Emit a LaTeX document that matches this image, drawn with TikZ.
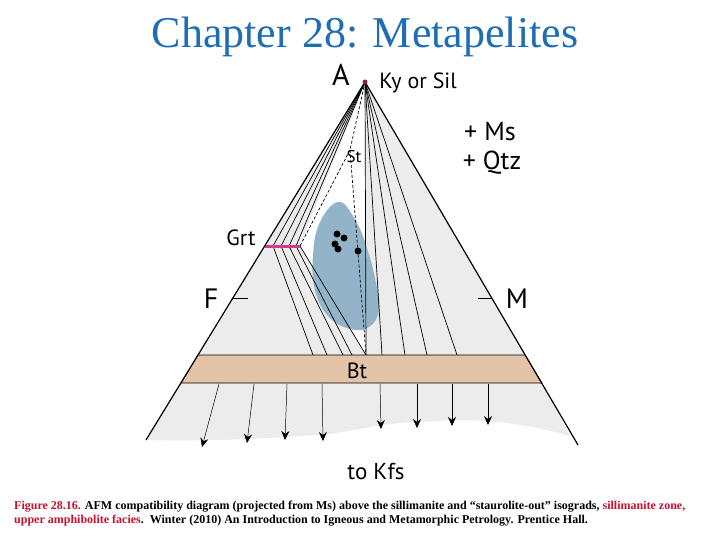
\documentclass[tikz,border=0pt]{standalone}
\usepackage{fontspec}
\setmainfont{Liberation Serif}
\newfontfamily\diafont{PT Sans}
\usepackage{tikz}
\usetikzlibrary{arrows.meta}

\definecolor{titleblue}{RGB}{31,109,180}
\definecolor{capred}{RGB}{200,16,46}
\definecolor{fieldgray}{RGB}{236,236,236}
\definecolor{bttan}{RGB}{228,196,168}
\definecolor{blobblue}{RGB}{147,180,200}
\definecolor{grtpink}{RGB}{214,58,140}
\definecolor{apexdot}{RGB}{140,30,90}

\begin{document}
\begin{tikzpicture}[x=1pt, y=-1pt,
  lbl/.style    = {anchor=base, inner sep=0pt, font=\diafont\fontsize{22}{22}\selectfont},
  biglbl/.style = {lbl, font=\diafont\fontsize{30}{30}\selectfont},
  edge/.style   = {line width=1.2pt},
  tie/.style    = {line width=0.7pt},
  dtie/.style   = {tie, dash pattern=on 3pt off 2pt},
  tick/.style   = {line width=0.8pt},
  kfsarr/.style = {-{Stealth[length=9pt, width=8pt, inset=3pt]}, line width=0.5pt},
  capline/.style= {anchor=base west, inner sep=0pt, font=\bfseries\fontsize{12}{12}\selectfont}
]
\useasboundingbox (0,0) rectangle (720,540);

% ,  Title ,
\node[anchor=base, inner sep=0pt, text=titleblue,
      font=\fontsize{44}{44}\selectfont] (title) at (365,48) {Chapter 28: Metapelites};

% ,  Corners and key points ,
\coordinate (A)    at (365,82);
\coordinate (Ftop) at (198,355);
\coordinate (Mtop) at (525,355);
\coordinate (Fbot) at (181,383);
\coordinate (Mbot) at (542,383);
\coordinate (Fend) at (146,440);
\coordinate (Mend) at (578,445);
\coordinate (St)   at (350,150);
\coordinate (G1)   at (265,246);
\coordinate (G2)   at (273,246);
\coordinate (G3)   at (281,246);
\coordinate (G4)   at (289,246);
\coordinate (G5)   at (296,246);
\coordinate (G6)   at (300,246);
\coordinate (Bt)   at (366,355);

% ,  Field fills ,
\fill[fieldgray] (A) -- (Ftop) -- (Mtop) -- cycle;
\fill[white] (A) -- (G6) -- (Bt) -- cycle;
\fill[fieldgray] (Fbot) -- (Fend)
  .. controls (200,442) and (280,438) .. (330,434)
  .. controls (360,430) and (380,423) .. (420,422)
  .. controls (450,420) and (500,416) .. (570,436) -- (Mbot) -- cycle;

% ,  Bulk compositions ,
\fill[blobblue] plot[smooth cycle, tension=0.7] coordinates
  {(338,202) (353,216) (366,245) (376,283) (379,310) (369,327)
   (350,329) (328,316) (315,290) (313,255) (320,222)};
\foreach \p in {(337,234),(344,238),(335,244),(338,249),(358,251)}
  \fill \p circle (3.5pt);

% ,  Tie lines: A - Grt ,
\foreach \g in {G2,G3,G4,G5}
  \draw[tie] (A) -- (\g);

% ,  Tie lines: Grt - Bt ,
\coordinate (B1) at (313,355);
\coordinate (B2) at (327,355);
\coordinate (B3) at (343,355);
\coordinate (B4) at (352,355);
\draw[tie] (G2) -- (B1);
\draw[tie] (G3) -- (B2);
\draw[tie] (G4) -- (B3);
\draw[tie] (G5) -- (B4);
\draw[tie] (G6) -- (Bt);

% ,  Tie lines: A - Bt ,
\draw[tie] (A) -- (Bt);
\foreach \b [count=\i] in {382,405,427,457} {
  \coordinate (R\i) at (\b,355);
  \draw[tie] (A) -- (R\i);
}

% ,  Former staurolite tie lines ,
\draw[dtie] (A) -- (St);
\draw[dtie] (St) -- (G6);
\draw[dtie] (St) -- (Bt);

% ,  Garnet solid solution ,
\draw[grtpink, line width=3pt] (G1) -- (G6);

% ,  Biotite band ,
\filldraw[fill=bttan, draw=black, line width=0.6pt]
  (Ftop) -- (Mtop) -- (Mbot) -- (Fbot) -- cycle;

% ,  Triangle sides ,
\draw[edge] (A) -- (Fend);
\draw[edge] (A) -- (Mend);
\fill[apexdot] (A) circle (2.5pt);

% ,  Ticks ,
\coordinate (Ft1) at (233,298);
\coordinate (Ft2) at (248,298);
\coordinate (Mt1) at (478,298);
\coordinate (Mt2) at (492,298);
\draw[tick] (Ft1) -- (Ft2);
\draw[tick] (Mt1) -- (Mt2);

% ,  Arrows toward Kfs ,
\foreach \i/\xa/\xb/\yb in {1/219/202/447, 2/254/247/443, 3/287/285/440, 4/322/323/441,
                           5/380/381/429, 6/417/417/428, 7/452/452/426, 8/488/488/425} {
  \coordinate (kt\i) at (\xa,384);
  \coordinate (kh\i) at (\xb,\yb);
  \draw[kfsarr] (kt\i) -- (kh\i);
}

% ,  Labels ,
\node[biglbl] (lA)   at (341,86)  {A};
\node[lbl]    (lky)  at (418,89)  {Ky or Sil};
\node[lbl, font=\diafont\fontsize{26}{26}\selectfont] (lms)  at (490,141) {+ Ms};
\node[lbl, font=\diafont\fontsize{26}{26}\selectfont] (lqtz) at (492,170) {+ Qtz};
\node[lbl, font=\diafont\fontsize{17}{17}\selectfont] (lst)  at (354,163) {St};
\node[lbl]    (lgrt) at (241,245) {Grt};
\node[biglbl, font=\diafont\fontsize{28}{28}\selectfont] (lF) at (211,308) {F};
\node[biglbl, font=\diafont\fontsize{28}{28}\selectfont] (lM) at (517,308) {M};
\node[lbl]    (lbt)  at (357,378) {Bt};
\node[lbl, font=\diafont\fontsize{23}{23}\selectfont] (lkfs) at (376,479) {to Kfs};

% ,  Caption ,
\node[capline] (cap1) at (14,509) {\textcolor{capred}{Figure 28.16.} AFM compatibility diagram (projected from Ms) above the sillimanite and “staurolite-out” isograds, \textcolor{capred}{sillimanite zone,}};
\node[capline] (cap2) at (14,523) {\textcolor{capred}{upper amphibolite facies}.\ \ Winter (2010) An Introduction to Igneous and Metamorphic Petrology. Prentice Hall.};

\end{tikzpicture}
\end{document}
